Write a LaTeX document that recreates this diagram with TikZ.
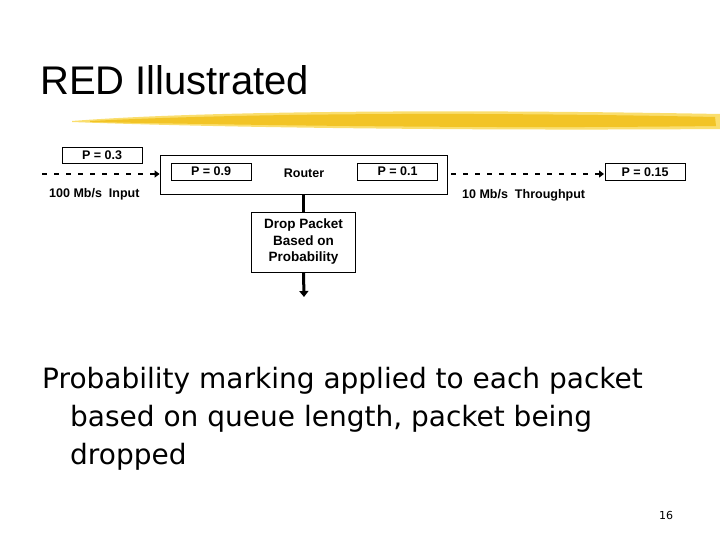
\documentclass[tikz,border=0pt]{standalone}
\usepackage{fontspec}
\setmainfont{Liberation Sans}
\newfontfamily\bodyfont{DejaVu Sans}
\usepackage{tikz}
\usetikzlibrary{arrows.meta,positioning,calc}
\definecolor{brush}{RGB}{242,196,38}
\definecolor{brushlight}{RGB}{250,222,110}

\begin{document}
\begin{tikzpicture}[x=1pt, y=-1pt, font=\bfseries\fontsize{12.5}{14}\selectfont,
  pbox/.style={draw, line width=0.8pt, minimum width=80pt, minimum height=17pt, inner sep=1pt},
  router/.style={draw, line width=0.8pt, minimum width=287pt, minimum height=39pt},
  dropbox/.style={draw, line width=0.8pt, minimum width=104pt, minimum height=60pt, align=center, inner sep=2pt, font=\bfseries\fontsize{13.5}{16.5}\selectfont},
  link/.style={dash pattern=on 5pt off 7pt, line width=2pt, -{Triangle[length=5pt, width=7pt]}},
  thick line/.style={line width=3pt},
  lbl/.style={inner sep=0pt, anchor=base west},
  body/.style={lbl, font=\bodyfont\fontsize{28}{30}\selectfont}]
\useasboundingbox (0,0) rectangle (720,540);
% title and brush stroke
\node[lbl, font=\fontsize{40}{42}\selectfont] (title) at (40,95) {RED Illustrated};
\fill[brushlight] (72,121) .. controls (200,111) and (450,109) .. (720,114) -- (720,129) .. controls (450,131) and (200,127) .. (72,122) -- cycle;
\fill[brush] (90,121) .. controls (250,113) and (480,112) .. (715,117) -- (716,126) .. controls (480,129) and (250,125) .. (90,122) -- cycle;
% router and its queues
\node[router] (router) at (303.5,174.5) {};
\node at (304,173) (rname) {Router};
\node[pbox] (pin) at (211,171.5) {P = 0.9};
\node[pbox] (pout) at (397.5,171.5) {P = 0.1};
\node[pbox, minimum height=16pt] (psrc) at (102,155) {P = 0.3};
\node[pbox] (pdst) at (645,172) {P = 0.15};
\node[dropbox] (drop) at (303.5,242) {Drop Packet\\Based on\\Probability};
% link ends
\coordinate (src) at (42,174);
\coordinate (dst) at (604,174);
\coordinate (bin) at (304,297);
\draw[link] (src) -- (router.west |- src);
\draw[link] (router.east |- dst) ++(4,0) -- (dst);
\draw[thick line] (router.south -| drop.north) -- (drop.north);
\draw[thick line, -{Triangle[length=6pt, width=9pt]}] (drop.south) -- (bin);
\node[lbl] (inrate) at (49,197) {100 Mb/s \ Input};
\node[lbl] (outrate) at (462,199) {10 Mb/s \ Throughput};
% body text
\node[body] (line1) at (42,388) {Probability marking applied to each packet};
\node[body] (line2) at (70,426) {based on queue length, packet being};
\node[body] (line3) at (70,464) {dropped};
\node[lbl, font=\bodyfont\fontsize{11}{13}\selectfont] (page) at (659,519) {16};
\end{tikzpicture}
\end{document}
